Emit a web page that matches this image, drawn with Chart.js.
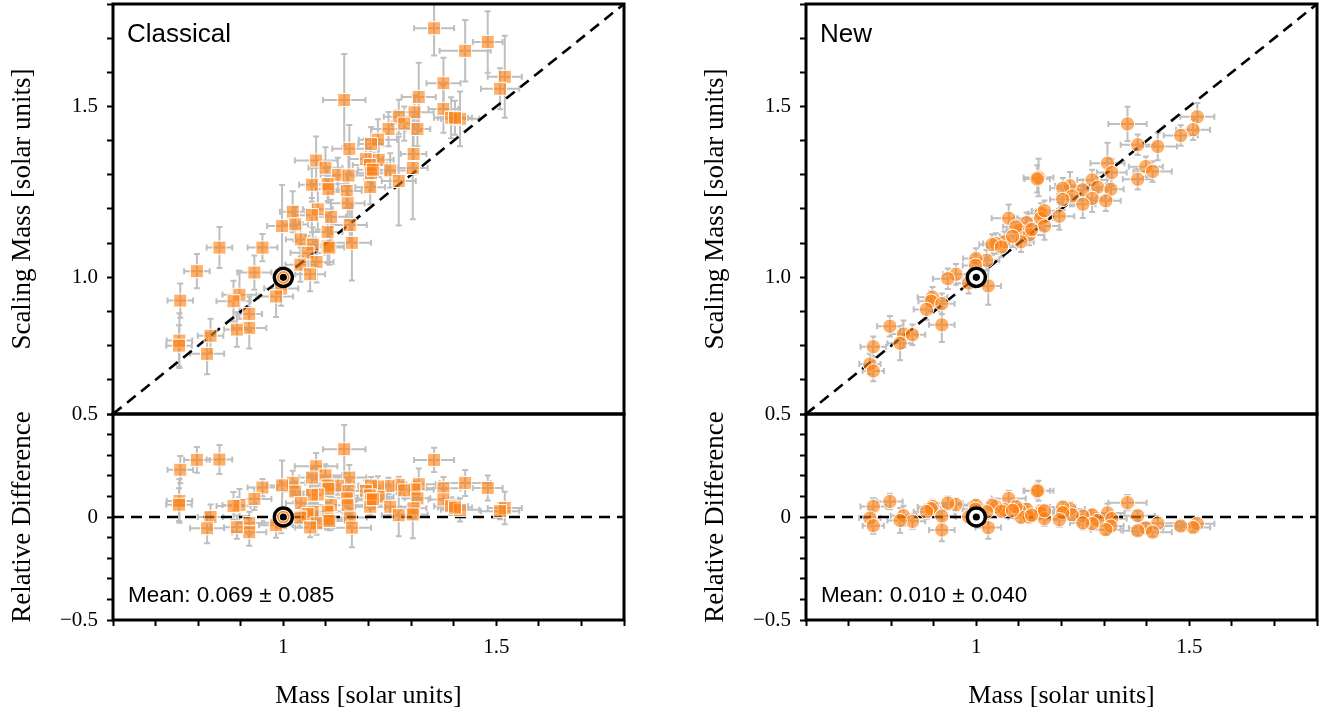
<!DOCTYPE html>
<html>
<head>
<meta charset="utf-8">
<script src="https://cdn.jsdelivr.net/npm/chart.js@4"></script>
<style>
  html, body { margin: 0; padding: 0; background: #fff; overflow: hidden; }
  #wrap { position: relative; width: 1327px; height: 717px; }
  canvas { position: absolute; }
  .note { position: absolute; font-family: "Liberation Sans", Arial, sans-serif; color: #000; line-height: 1; white-space: nowrap; }
</style>
</head>
<body>
<div id="wrap">
  <canvas id="tl" width="634" height="421" style="left:0;top:0"></canvas>
  <canvas id="bl" width="634" height="317" style="left:0;top:400px"></canvas>
  <canvas id="tr" width="634" height="421" style="left:693px;top:0"></canvas>
  <canvas id="br" width="634" height="317" style="left:693px;top:400px"></canvas>
  <div class="note" id="nameL" style="left:127px;top:20px;font-size:26px"></div>
  <div class="note" id="meanL" style="left:128px;top:584px;font-size:22.5px"></div>
  <div class="note" id="nameR" style="left:820px;top:20px;font-size:26px"></div>
  <div class="note" id="meanR" style="left:821px;top:584px;font-size:22.5px"></div>
</div>
<script>
// ---- Classical scaling relations: mass, scaling mass and their uncertainties ----
const classicalMass = [1.354,1.480,1.427,1.520,1.509,1.376,1.143,1.318,1.308,1.376,1.394,1.415,1.271,1.284,1.247,1.315,1.222,1.206,1.155,1.306,1.194,1.224,1.077,1.099,1.203,1.206,1.251,1.304,1.128,1.153,1.271,1.067,1.104,1.204,1.149,1.106,1.151,1.081,1.067,1.022,1.112,0.997,1.028,1.156,1.104,1.041,1.104,1.161,1.069,1.057,0.951,0.850,1.040,1.078,1.063,0.932,0.797,0.995,0.983,0.897,0.883,0.758,0.920,0.920,0.891,0.829,0.756,0.821,0.755,1.403,1.108,1.210];
const classicalScaling = [1.729,1.689,1.663,1.587,1.552,1.568,1.519,1.528,1.483,1.493,1.467,1.464,1.470,1.450,1.434,1.434,1.403,1.390,1.376,1.361,1.346,1.344,1.342,1.321,1.329,1.305,1.313,1.320,1.300,1.298,1.282,1.271,1.273,1.264,1.253,1.258,1.217,1.199,1.182,1.192,1.177,1.150,1.155,1.153,1.133,1.111,1.091,1.101,1.096,1.072,1.087,1.087,1.037,1.045,1.009,1.014,1.018,0.967,0.944,0.949,0.930,0.932,0.893,0.852,0.847,0.829,0.815,0.776,0.800,1.467,1.087,1.315];
const classicalMassErr = [0.047,0.035,0.060,0.040,0.045,0.040,0.050,0.040,0.045,0.035,0.040,0.045,0.035,0.030,0.040,0.030,0.045,0.030,0.040,0.030,0.040,0.035,0.050,0.040,0.040,0.035,0.040,0.035,0.040,0.040,0.040,0.030,0.040,0.035,0.035,0.030,0.040,0.035,0.040,0.030,0.035,0.035,0.030,0.040,0.035,0.035,0.040,0.045,0.030,0.040,0.035,0.030,0.035,0.040,0.035,0.040,0.030,0.040,0.040,0.040,0.040,0.030,0.030,0.040,0.030,0.030,0.030,0.040,0.030,0.040,0.035,0.035];
const classicalScalingErr = [0.080,0.090,0.090,0.120,0.060,0.075,0.135,0.100,0.050,0.070,0.060,0.080,0.050,0.050,0.050,0.050,0.060,0.050,0.070,0.060,0.060,0.050,0.070,0.060,0.050,0.050,0.050,0.150,0.050,0.060,0.130,0.050,0.050,0.050,0.050,0.040,0.050,0.060,0.050,0.060,0.050,0.120,0.050,0.050,0.050,0.050,0.050,0.110,0.050,0.050,0.040,0.060,0.050,0.060,0.050,0.050,0.050,0.050,0.060,0.070,0.060,0.050,0.050,0.060,0.050,0.050,0.080,0.060,0.060,0.050,0.050,0.050];

// ---- New scaling relations ----
const newMass = [1.355,1.519,1.509,1.480,1.379,1.426,1.308,1.318,1.398,1.414,1.379,1.146,1.143,1.272,1.220,1.203,1.250,1.285,1.316,1.225,1.203,1.272,1.304,1.250,1.195,1.152,1.151,1.160,1.118,1.076,1.101,1.124,1.105,1.066,1.046,1.037,1.059,1.024,0.999,0.998,1.028,0.982,0.952,0.933,0.897,0.894,0.883,0.919,0.919,0.797,0.829,0.850,0.821,0.758,0.750,0.758,1.093,1.130,1.160,1.085];
const newScaling = [1.449,1.470,1.432,1.415,1.388,1.383,1.334,1.307,1.324,1.310,1.287,1.292,1.288,1.285,1.268,1.261,1.256,1.264,1.258,1.238,1.228,1.231,1.224,1.214,1.179,1.187,1.173,1.150,1.160,1.173,1.138,1.124,1.104,1.104,1.099,1.096,1.089,1.050,1.055,1.035,0.975,0.983,1.009,0.996,0.942,0.930,0.906,0.923,0.861,0.857,0.834,0.832,0.807,0.797,0.746,0.726,1.148,1.140,1.195,1.120];
const newMassErr = [0.045,0.040,0.040,0.040,0.040,0.045,0.040,0.035,0.040,0.045,0.035,0.035,0.030,0.035,0.035,0.030,0.035,0.030,0.030,0.035,0.030,0.030,0.035,0.030,0.035,0.030,0.030,0.035,0.030,0.040,0.030,0.035,0.030,0.030,0.030,0.030,0.035,0.030,0.030,0.030,0.030,0.030,0.030,0.035,0.035,0.030,0.030,0.030,0.030,0.030,0.030,0.030,0.030,0.030,0.025,0.025,0.030,0.030,0.030,0.030];
const newScalingErr = [0.050,0.040,0.030,0.030,0.030,0.040,0.060,0.040,0.030,0.030,0.030,0.055,0.040,0.030,0.040,0.030,0.030,0.030,0.030,0.030,0.030,0.040,0.030,0.040,0.040,0.030,0.030,0.040,0.030,0.040,0.030,0.030,0.030,0.030,0.030,0.030,0.030,0.030,0.030,0.030,0.055,0.030,0.030,0.030,0.030,0.030,0.030,0.030,0.050,0.030,0.040,0.030,0.050,0.030,0.030,0.030,0.030,0.030,0.030,0.030];

// ---- Axis ranges, tick labels and texts ----
const massRange = [0.6, 1.8];
const scalingRange = [0.6, 1.8];
const diffRange = [-0.5, 0.5];
const massTickValues = [1, 1.5];
const massTickLabels = ['1', '1.5'];
const scalingTickValues = [1.0, 1.5];
const scalingTickLabels = ['1.0', '1.5'];
const diffTickValues = [-0.5, 0, 0.5];
const diffTickLabels = ['\u22120.5', '0', '0.5'];
const sunPoint = {x: 1, y: 1};
const panelNames = ['Classical', 'New'];
const meanTexts = ['Mean: 0.069 \u00b1 0.085', 'Mean: 0.010 \u00b1 0.040'];
const xTitle = 'Mass [solar units]';
const yTopTitle = 'Scaling Mass [solar units]';
const yBottomTitle = 'Relative Difference';

document.getElementById('nameL').textContent = panelNames[0];
document.getElementById('nameR').textContent = panelNames[1];
document.getElementById('meanL').textContent = meanTexts[0];
document.getElementById('meanR').textContent = meanTexts[1];

const FILL = 'rgba(255,127,14,0.62)';
const SERIF = '"Liberation Serif", "Times New Roman", serif';

// Error bars drawn beneath the markers, positioned through the chart scales
const errorBars = {
  id: 'errorBars',
  beforeDatasetsDraw(chart) {
    const {ctx, chartArea: a, scales: {x, y}} = chart;
    ctx.save();
    ctx.beginPath();
    ctx.rect(a.left, a.top, a.right - a.left, a.bottom - a.top);
    ctx.clip();
    ctx.strokeStyle = '#bfbfbf';
    ctx.lineWidth = 2;
    const cap = 3;
    chart.data.datasets.forEach(ds => {
      if (!ds.errX) return;
      ds.data.forEach((p, i) => {
        const px = x.getPixelForValue(p.x), py = y.getPixelForValue(p.y);
        const x0 = x.getPixelForValue(p.x - ds.errX[i]), x1 = x.getPixelForValue(p.x + ds.errX[i]);
        const y0 = y.getPixelForValue(p.y - ds.errY[i]), y1 = y.getPixelForValue(p.y + ds.errY[i]);
        ctx.beginPath();
        ctx.moveTo(x0, py); ctx.lineTo(x1, py);
        ctx.moveTo(px, y0); ctx.lineTo(px, y1);
        ctx.moveTo(x0, py - cap); ctx.lineTo(x0, py + cap);
        ctx.moveTo(x1, py - cap); ctx.lineTo(x1, py + cap);
        ctx.moveTo(px - cap, y0); ctx.lineTo(px + cap, y0);
        ctx.moveTo(px - cap, y1); ctx.lineTo(px + cap, y1);
        ctx.stroke();
      });
    });
    ctx.restore();
  }
};

// Closed black frame round the plotting area
const frame = {
  id: 'frame',
  afterDraw(chart) {
    const {ctx, chartArea: a} = chart;
    ctx.save();
    ctx.strokeStyle = '#000';
    ctx.lineWidth = 3;
    ctx.strokeRect(a.left, a.top, a.right - a.left, a.bottom - a.top);
    ctx.restore();
  }
};

function pickLabel(values, labels) {
  return v => {
    for (let i = 0; i < values.length; i++) if (Math.abs(v - values[i]) < 1e-6) return labels[i];
    return '';
  };
}

function tickGrid() {
  return { display: true, drawOnChartArea: false, drawTicks: true, tickLength: 6, tickWidth: 2, tickColor: '#000' };
}

function sunDatasets(yv, ring) {
  const sets = [
    { data: [{x: sunPoint.x, y: yv}], pointRadius: 9, pointBackgroundColor: '#fff', pointBorderColor: '#000', pointBorderWidth: 3.4, order: 1 }
  ];
  if (ring) sets.push({ data: [{x: sunPoint.x, y: yv}], pointRadius: 5.4, pointBackgroundColor: 'rgba(0,0,0,0)', pointBorderColor: 'rgba(255,127,14,0.9)', pointBorderWidth: 1.8, order: 0 });
  sets.push({ data: [{x: sunPoint.x, y: yv}], pointRadius: 3.6, pointBackgroundColor: '#000', pointBorderWidth: 0, order: 0 });
  return sets;
}

function makePanel(id, opts) {
  const top = opts.kind === 'top';
  const yMin = top ? scalingRange[0] : diffRange[0];
  const yMax = top ? scalingRange[1] : diffRange[1];
  const guide = top
    ? [{x: massRange[0], y: scalingRange[0]}, {x: massRange[1], y: scalingRange[1]}]
    : [{x: massRange[0], y: 0}, {x: massRange[1], y: 0}];
  const datasets = [
    { type: 'line', data: guide, borderColor: '#000', borderWidth: 2.6, borderDash: [11, 7], pointRadius: 0, fill: false, order: 5 },
    { data: opts.points, errX: opts.errX, errY: opts.errY, pointStyle: opts.style, pointRadius: opts.radius,
      pointBackgroundColor: FILL, pointBorderColor: '#fff', pointBorderWidth: 1, order: 3 },
    ...sunDatasets(top ? sunPoint.y : 0, opts.ring)
  ];
  return new Chart(document.getElementById(id), {
    type: 'scatter',
    data: { datasets },
    plugins: [errorBars, frame],
    options: {
      responsive: false,
      animation: false,
      devicePixelRatio: 1,
      events: [],
      layout: { autoPadding: false, padding: top ? {top: 4, right: 10, bottom: 7, left: 0} : {top: 14, right: 10, bottom: 0, left: 0} },
      plugins: { legend: { display: false }, tooltip: { enabled: false } },
      scales: {
        x: {
          type: 'linear', min: massRange[0], max: massRange[1],
          display: !top,
          afterFit: s => {
            if (!top) s.height = 97;
            s.paddingLeft = 0; s.paddingRight = 0;
          },
          border: { display: false },
          grid: tickGrid(),
          ticks: { stepSize: 0.1, autoSkip: false, maxRotation: 0, padding: 9, color: '#000',
                   font: { family: SERIF, size: 21 }, callback: pickLabel(massTickValues, massTickLabels) },
          title: { display: true, text: xTitle, color: '#000', font: { family: SERIF, size: 26 }, padding: { top: 0, bottom: 5 } }
        },
        y: {
          type: 'linear', min: yMin, max: yMax,
          afterFit: s => { s.width = 113; s.paddingTop = 0; s.paddingBottom = 0; },
          border: { display: false },
          grid: tickGrid(),
          ticks: { stepSize: 0.1, autoSkip: false, padding: 9, color: '#000',
                   font: { family: SERIF, size: 21 },
                   callback: top ? pickLabel(scalingTickValues, scalingTickLabels) : pickLabel(diffTickValues, diffTickLabels) },
          title: { display: true, text: top ? yTopTitle : yBottomTitle, color: '#000', font: { family: SERIF, size: 27 }, padding: { top: 7, bottom: 0 } }
        }
      }
    }
  });
}

function points(xs, ys) { return xs.map((v, i) => ({x: v, y: ys[i]})); }
function relPoints(xs, ys) { return xs.map((v, i) => ({x: v, y: (ys[i] - v) / v})); }
function relErr(xs, es) { return xs.map((v, i) => es[i] / v); }

makePanel('tl', { kind: 'top', points: points(classicalMass, classicalScaling), errX: classicalMassErr, errY: classicalScalingErr, style: 'rect', radius: 9.2, ring: true });
makePanel('bl', { kind: 'bottom', points: relPoints(classicalMass, classicalScaling), errX: classicalMassErr, errY: relErr(classicalMass, classicalScalingErr), style: 'rect', radius: 9.2, ring: true });
makePanel('tr', { kind: 'top', points: points(newMass, newScaling), errX: newMassErr, errY: newScalingErr, style: 'circle', radius: 7.2, ring: false });
makePanel('br', { kind: 'bottom', points: relPoints(newMass, newScaling), errX: newMassErr, errY: relErr(newMass, newScalingErr), style: 'circle', radius: 7.2, ring: false });
</script>
</body>
</html>
